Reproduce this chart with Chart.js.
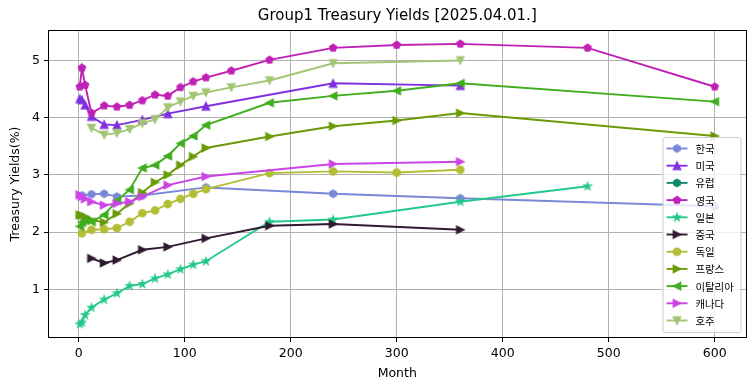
<!DOCTYPE html>
<html lang="ko">
<head>
<meta charset="utf-8">
<title>Group1 Treasury Yields</title>
<script src="https://cdn.jsdelivr.net/npm/chart.js@4/dist/chart.umd.min.js"></script>
<style>
  html, body { margin: 0; padding: 0; background: #fff; }
  #Contenedor { width: 755px; height: 391px; }
</style>
</head>
<body>
<div id="Contenedor"><canvas id="GraficoTasas" width="755" height="391"></canvas></div>
<script>
// Datos: meses al vencimiento y tasa (%)
const Titulo = 'Group1 Treasury Yields [2025.04.01.]';
const Paises = ['한국', '미국', '유럽', '영국', '일본', '중국', '독일', '프랑스', '이탈리아', '캐나다', '호주'];

const MesesCorea     = [3, 12, 24, 36, 60, 120, 240, 360, 600];
const TasasCorea     = [2.64, 2.66, 2.67, 2.62, 2.64, 2.78, 2.67, 2.59, 2.45];
const MesesEEUU      = [1, 3, 6, 12, 24, 36, 60, 84, 120, 240, 360];
const TasasEEUU      = [4.33, 4.31, 4.22, 4.02, 3.88, 3.87, 3.96, 4.07, 4.20, 4.60, 4.56];
const MesesEuropa    = [];
const TasasEuropa    = [];
const MesesReinoUnido = [1, 3, 6, 12, 24, 36, 48, 60, 72, 84, 96, 108, 120, 144, 180, 240, 300, 360, 480, 600];
const TasasReinoUnido = [4.54, 4.87, 4.57, 4.08, 4.21, 4.19, 4.22, 4.30, 4.40, 4.38, 4.53, 4.63, 4.70, 4.82, 5.01, 5.22, 5.27, 5.29, 5.22, 4.54];
const MesesJapon     = [1, 3, 6, 12, 24, 36, 48, 60, 72, 84, 96, 108, 120, 180, 240, 360, 480];
const TasasJapon     = [0.39, 0.42, 0.55, 0.68, 0.82, 0.93, 1.06, 1.09, 1.19, 1.26, 1.35, 1.43, 1.49, 2.18, 2.22, 2.53, 2.80];
const MesesChina     = [12, 24, 36, 60, 84, 120, 180, 240, 360];
const TasasChina     = [1.54, 1.46, 1.51, 1.69, 1.74, 1.89, 2.11, 2.14, 2.04];
const MesesAlemania  = [3, 12, 24, 36, 48, 60, 72, 84, 96, 108, 120, 180, 240, 300, 360];
const TasasAlemania  = [1.98, 2.04, 2.05, 2.07, 2.18, 2.33, 2.38, 2.49, 2.58, 2.67, 2.75, 3.03, 3.06, 3.04, 3.09];
const MesesFrancia   = [1, 3, 6, 12, 24, 36, 48, 60, 72, 84, 96, 108, 120, 180, 240, 300, 360, 600];
const TasasFrancia   = [2.30, 2.29, 2.27, 2.21, 2.17, 2.32, 2.50, 2.69, 2.87, 3.00, 3.17, 3.32, 3.47, 3.67, 3.85, 3.95, 4.08, 3.68];
const MesesItalia    = [1, 3, 6, 12, 24, 36, 48, 60, 72, 84, 96, 108, 120, 180, 240, 300, 360, 600];
const TasasItalia    = [2.10, 2.17, 2.20, 2.18, 2.30, 2.55, 2.74, 3.12, 3.17, 3.33, 3.55, 3.68, 3.87, 4.26, 4.38, 4.47, 4.60, 4.28];
const MesesCanada    = [1, 3, 6, 12, 24, 36, 48, 60, 84, 120, 240, 360];
const TasasCanada    = [2.65, 2.62, 2.58, 2.53, 2.47, 2.50, 2.53, 2.62, 2.82, 2.97, 3.19, 3.23];
const MesesAustralia = [12, 24, 36, 48, 60, 72, 84, 96, 108, 120, 144, 180, 240, 360];
const TasasAustralia = [3.82, 3.70, 3.73, 3.80, 3.90, 3.97, 4.18, 4.28, 4.38, 4.44, 4.53, 4.65, 4.95, 5.00];

const TicksX = [0, 100, 200, 300, 400, 500, 600];
const TicksY = [1, 2, 3, 4, 5];

const Series = [
  [MesesCorea, TasasCorea], [MesesEEUU, TasasEEUU], [MesesEuropa, TasasEuropa],
  [MesesReinoUnido, TasasReinoUnido], [MesesJapon, TasasJapon], [MesesChina, TasasChina],
  [MesesAlemania, TasasAlemania], [MesesFrancia, TasasFrancia], [MesesItalia, TasasItalia],
  [MesesCanada, TasasCanada], [MesesAustralia, TasasAustralia]
];

const Colores    = ['#7a88d8', '#8030e0', '#108a6a', '#c021b5', '#24c98a', '#301a30', '#b3be35', '#6a9a08', '#40ae1e', '#cb45e6', '#a3c676'];
const Marcadores = ['h', '^', 'h', 'p', '*', '>', 'o', '>', '<', '>', 'v'];

const Fuente      = "'DejaVu Sans', 'Noto Sans CJK KR', sans-serif";
const FuenteCoreana = "'Noto Sans CJK KR', 'DejaVu Sans', sans-serif";

// Marcadores estilo matplotlib dibujados en un lienzo pequeño
function CrearMarcador(Tipo, Color) {
  const Lienzo = document.createElement('canvas');
  Lienzo.width = 14;
  Lienzo.height = 14;
  const Ctx = Lienzo.getContext('2d');
  const R = 3.75;
  Ctx.translate(7, 7);
  Ctx.beginPath();

  const Poligono = (Lados, Radios) => {
    const N = Lados * Radios.length;
    for (let I = 0; I < N; I++) {
      const A  = I * 2 * Math.PI / N;
      const Rd = Radios[I % Radios.length];
      const Px = Rd * Math.sin(A), Py = -Rd * Math.cos(A);
      I ? Ctx.lineTo(Px, Py) : Ctx.moveTo(Px, Py);
    }
    Ctx.closePath();
  };

  switch (Tipo) {
    case 'o': Ctx.arc(0, 0, R, 0, 2 * Math.PI); break;
    case 'h': Poligono(6, [R]); break;
    case 'p': Poligono(5, [R]); break;
    case '*': Poligono(5, [R, R * 0.381966]); break;
    case '^': Ctx.moveTo(0, -R); Ctx.lineTo(-R, R); Ctx.lineTo(R, R); Ctx.closePath(); break;
    case 'v': Ctx.moveTo(0, R); Ctx.lineTo(-R, -R); Ctx.lineTo(R, -R); Ctx.closePath(); break;
    case '>': Ctx.moveTo(R, 0); Ctx.lineTo(-R, -R); Ctx.lineTo(-R, R); Ctx.closePath(); break;
    case '<': Ctx.moveTo(-R, 0); Ctx.lineTo(R, -R); Ctx.lineTo(R, R); Ctx.closePath(); break;
  }
  Ctx.fillStyle = Color;
  Ctx.fill();
  Ctx.lineWidth = 1.25;
  Ctx.strokeStyle = Color;
  Ctx.lineJoin = Tipo === 'o' ? 'round' : 'miter';
  Ctx.stroke();
  return Lienzo;
}

const Imagenes = Marcadores.map((M, I) => CrearMarcador(M, Colores[I]));

// Titulo, bordes y leyenda como en matplotlib
const PluginMarco = {
  id: 'Marco',
  afterDatasetsDraw(Grafico) {
    const { ctx: Ctx, chartArea: A } = Grafico;
    Ctx.save();
    Ctx.strokeStyle = '#000';
    Ctx.lineWidth = 1;
    Ctx.strokeRect(Math.round(A.left) + 0.5, Math.round(A.top) + 0.5,
                   Math.round(A.right) - Math.round(A.left) - 1, Math.round(A.bottom) - Math.round(A.top) - 1);
    Ctx.restore();
  },
  afterDraw(Grafico) {
    const { ctx: Ctx, chartArea: A } = Grafico;
    Ctx.save();

    Ctx.fillStyle = '#000';
    Ctx.font = `15px ${Fuente}`;
    Ctx.textAlign = 'center';
    Ctx.textBaseline = 'alphabetic';
    Ctx.fillText(Titulo, (A.left + A.right) / 2, A.top - 10.5);

    const Ancho = 78, Alto = 195, Paso = 17.2;
    const X0 = A.right - 6 - Ancho;
    const Y0 = A.bottom - 6 - Alto;
    Ctx.beginPath();
    Ctx.roundRect(X0 + 0.5, Y0 + 0.5, Ancho, Alto, 2);
    Ctx.fillStyle = 'rgba(255,255,255,0.8)';
    Ctx.fill();
    Ctx.strokeStyle = '#cccccc';
    Ctx.lineWidth = 1;
    Ctx.stroke();

    Ctx.font = `10.4px ${FuenteCoreana}`;
    Ctx.textAlign = 'left';
    Ctx.textBaseline = 'middle';
    Paises.forEach((Pais, I) => {
      const Y = Y0 + 11.5 + I * Paso;
      Ctx.beginPath();
      Ctx.moveTo(X0 + 4, Y);
      Ctx.lineTo(X0 + 25, Y);
      Ctx.strokeStyle = Colores[I];
      Ctx.lineWidth = 1.9;
      Ctx.stroke();
      Ctx.drawImage(Imagenes[I], X0 + 14.5 - 7, Y - 7);
      Ctx.fillStyle = '#000';
      Ctx.fillText(Pais, X0 + 33, Y + 0.5);
    });
    Ctx.restore();
  }
};

const Datasets = Paises.map((Pais, I) => ({
  label: Pais,
  data: Series[I][0].map((Mes, J) => ({ x: Mes, y: Series[I][1][J] })),
  borderColor: Colores[I],
  backgroundColor: Colores[I],
  borderWidth: 1.9,
  pointStyle: Imagenes[I],
  pointRadius: 4,
  tension: 0,
  order: -I
}));

new Chart(document.getElementById('GraficoTasas').getContext('2d'), {
  type: 'line',
  data: { datasets: Datasets },
  plugins: [PluginMarco],
  options: {
    responsive: false,
    animation: false,
    font: { family: Fuente },
    layout: { padding: { top: 30, right: 8.5, left: 0, bottom: 0 } },
    plugins: {
      legend: { display: false },
      tooltip: { enabled: false },
      title: { display: false }
    },
    scales: {
      x: {
        type: 'linear',
        min: -29,
        max: 630,
        afterBuildTicks: Eje => { Eje.ticks = TicksX.map(V => ({ value: V })); },
        afterFit: Eje => { Eje.height = 53; },
        grid: { color: '#b0b0b0', lineWidth: 1, tickColor: '#000', tickLength: 4 },
        border: { display: false },
        ticks: { color: '#000', font: { family: Fuente, size: 12.5 }, padding: 4, maxRotation: 0 },
        title: { display: true, text: 'Month', color: '#000', font: { family: Fuente, size: 12.5 }, padding: { top: 0, bottom: 9.5 } }
      },
      y: {
        type: 'linear',
        min: 0.148,
        max: 5.532,
        afterBuildTicks: Eje => { Eje.ticks = TicksY.map(V => ({ value: V })); },
        afterFit: Eje => { Eje.width = 48; },
        grid: { color: '#b0b0b0', lineWidth: 1, tickColor: '#000', tickLength: 4 },
        border: { display: false },
        ticks: { color: '#000', font: { family: Fuente, size: 12.5 }, padding: 4 },
        title: { display: true, text: 'Treasury Yields(%)', color: '#000', font: { family: Fuente, size: 12.5 }, padding: { top: 8.5, bottom: 0 } }
      }
    }
  }
});
</script>
</body>
</html>
